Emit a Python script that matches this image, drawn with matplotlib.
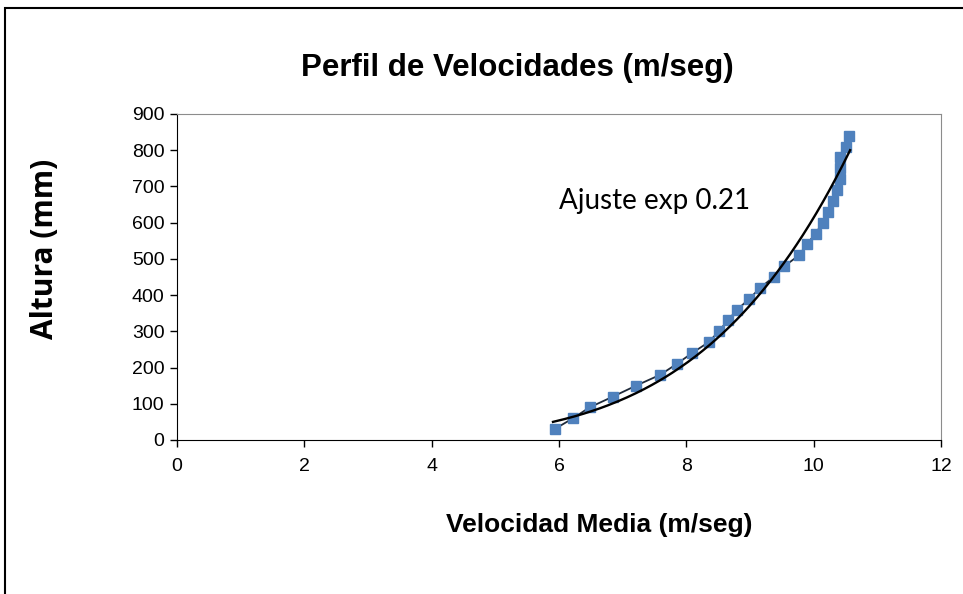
import numpy as np
import matplotlib
matplotlib.use('Agg')
import matplotlib.pyplot as plt
from matplotlib.patches import Rectangle

# measured profile: height (mm) and mean velocity (m/seg)
altura = [30, 60, 90, 120, 150, 180, 210, 240, 270, 300, 330, 360, 390, 420,
          450, 480, 510, 540, 570, 600, 630, 660, 690, 720, 750, 780, 810, 840]
velocidad = [5.93, 6.22, 6.48, 6.85, 7.21, 7.59, 7.85, 8.09, 8.35, 8.51, 8.65, 8.80,
             8.99, 9.16, 9.37, 9.54, 9.77, 9.89, 10.03, 10.14, 10.22, 10.31, 10.36,
             10.41, 10.42, 10.41, 10.50, 10.55]

exponente = 0.21
fit_range = (50, 800)

# power-law trend line with the stated exponent, coefficient from the data
h = np.array(altura, dtype=float)
v = np.array(velocidad)
coef = np.exp(np.mean(np.log(v) - exponente * np.log(h)))
h_fit = np.linspace(fit_range[0], fit_range[1], 200)
v_fit = coef * h_fit ** exponente

fig = plt.figure(figsize=(9.63, 5.94), dpi=100)
ax = fig.add_axes([0.1838, 0.2593, 0.7934, 0.5488])

ax.plot(velocidad, altura, color='#1f2a3a', lw=1.3, marker='s', ms=7,
        mfc='#4F81BD', mec='#4F81BD', zorder=3)
ax.plot(v_fit, h_fit, color='black', lw=1.7, zorder=4)

ax.set_xlim(0, 12)
ax.set_ylim(0, 900)
ax.set_xticks(range(0, 13, 2))
ax.set_yticks(range(0, 901, 100))
ax.tick_params(direction='out', length=5, width=1, labelsize=14, pad=4)
for lab in ax.get_xticklabels() + ax.get_yticklabels():
    lab.set_family('Liberation Sans')
ax.tick_params(axis='x', pad=8)

for s in ['top', 'right']:
    ax.spines[s].set_color('#8c8c8c')
for s in ['left', 'bottom']:
    ax.spines[s].set_color('black')

ax.text(6.0, 660, 'Ajuste exp 0.21', fontsize=20, family='Lato', va='center')

fig.text(0.537, 0.886, 'Perfil de Velocidades (m/seg)', fontsize=22.5,
         fontweight='bold', family='Liberation Sans', ha='center', va='center')
fig.text(0.622, 0.116, 'Velocidad Media (m/seg)', fontsize=19,
         fontweight='bold', family='Liberation Sans', ha='center', va='center')
fig.text(0.047, 0.581, 'Altura (mm)', fontsize=21.5, fontweight='bold',
         family='Open Sans', rotation=90, ha='center', va='center')

# outer frame of the chart object
fig.patches.append(Rectangle((5 / 963, -0.05), 1.05, 1 - 8 / 594 + 0.05,
                             transform=fig.transFigure, fill=False,
                             edgecolor='black', lw=1.5))

fig.savefig('out.png', dpi=100)
